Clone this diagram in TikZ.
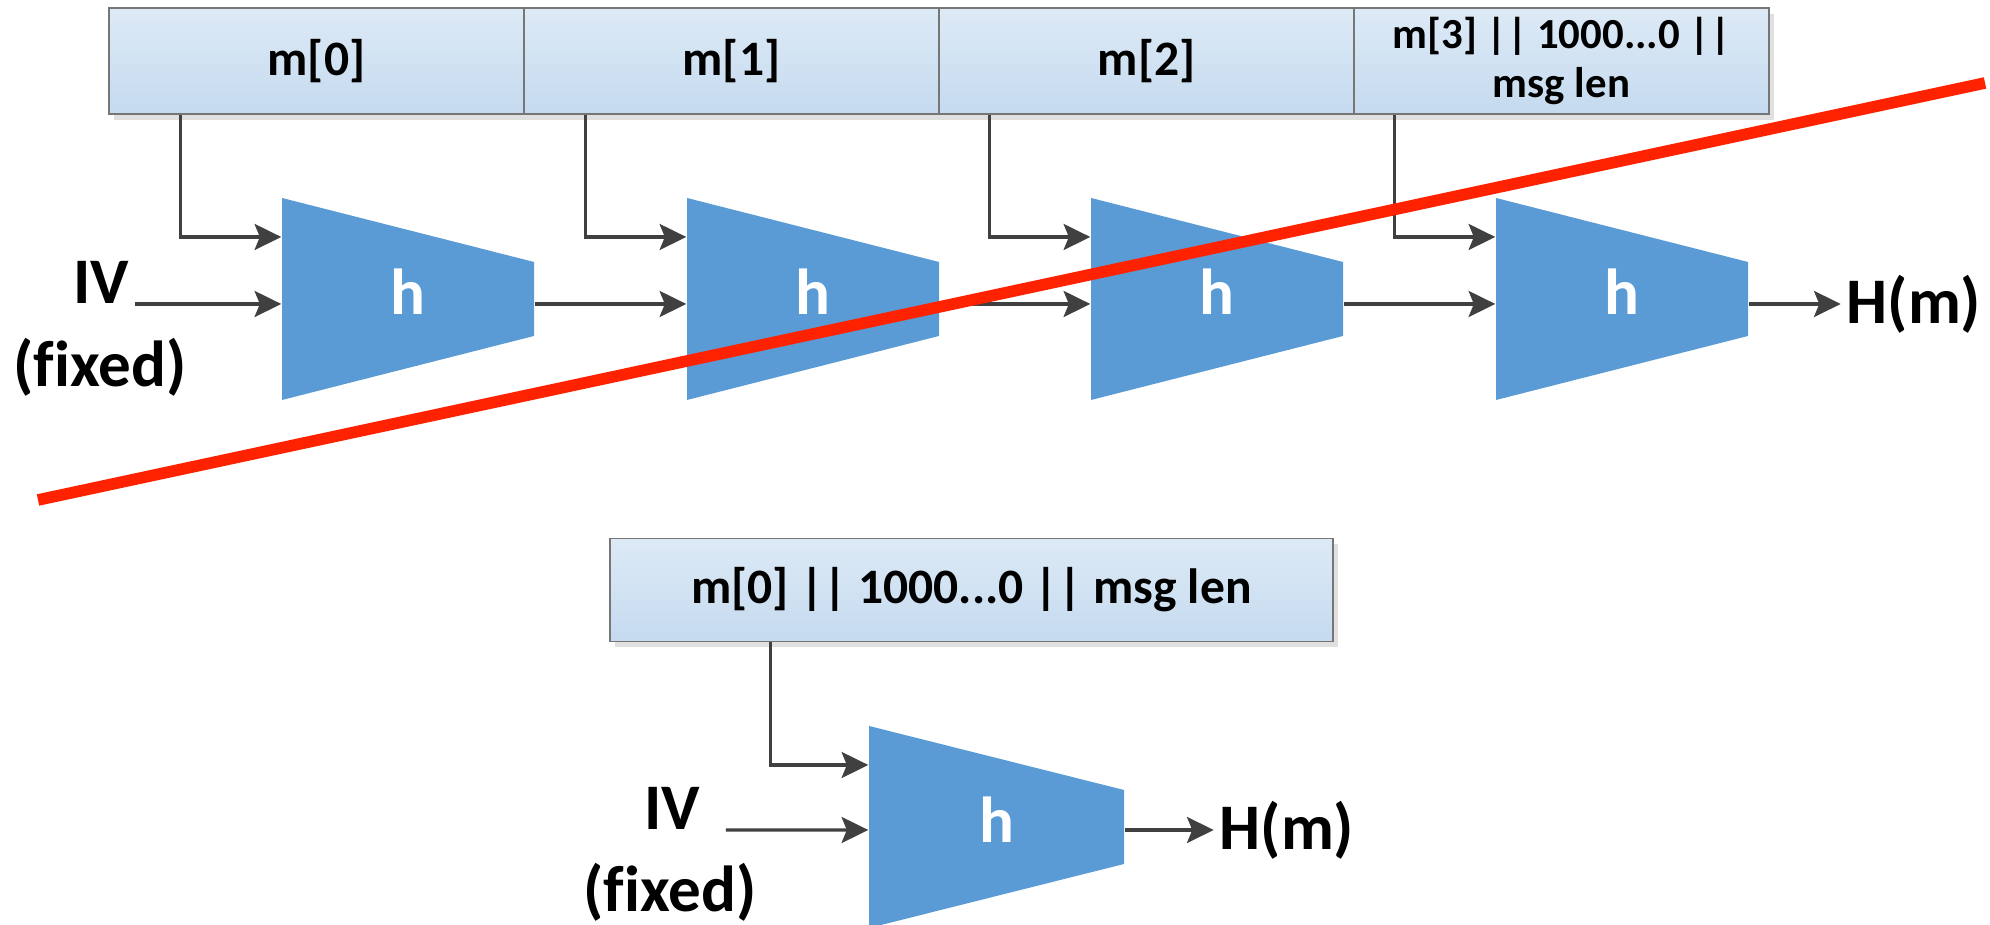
\documentclass[tikz,border=0pt]{standalone}
\usepackage{fontspec}
\setmainfont{Carlito}[Ligatures=NoCommon]
\usetikzlibrary{arrows.meta, positioning, calc, shadows}
\definecolor{hblue}{HTML}{5B9BD5}
\definecolor{boxtop}{HTML}{DDEAF6}
\definecolor{boxbot}{HTML}{C5DAEF}
\definecolor{boxline}{HTML}{767676}
\definecolor{arrgray}{HTML}{404040}
\definecolor{cutred}{HTML}{FF2200}

\begin{document}
\begin{tikzpicture}[
  >={Stealth[length=7.6pt, width=7.4pt, inset=1.5pt]},
  blk/.style={draw=boxline, line width=0.5pt, top color=boxtop, bottom color=boxbot,
    minimum height=1.06cm, inner sep=0pt, align=center,
    font=\fontsize{14.1}{16}\selectfont\bfseries,
    drop shadow={shadow xshift=0.05cm, shadow yshift=-0.06cm, fill=black!12, opacity=1}},
  hblock/.style={minimum width=2.52cm, minimum height=2.02cm, inner sep=0pt, fill=white,
    text=white, text depth=0.14cm, font=\fontsize{18.5}{22}\selectfont\bfseries,
    path picture={\fill[hblue] (path picture bounding box.north west)
      -- ($(path picture bounding box.east)+(0,0.37)$)
      -- ($(path picture bounding box.east)+(0,-0.37)$)
      -- (path picture bounding box.south west) -- cycle;}},
  lbl/.style={font=\fontsize{18.5}{22}\selectfont\bfseries, inner sep=1.5pt},
  flow/.style={arrgray, line width=0.9pt, ->},
]

\useasboundingbox (0,0) rectangle (19.90,9.25);

% Message blocks
\node[blk, minimum width=4.15cm] (m0) at (3.165,8.64) {m[0]};
\node[blk, minimum width=4.15cm] (m1) at (7.315,8.64) {m[1]};
\node[blk, minimum width=4.15cm] (m2) at (11.465,8.64) {m[2]};
\node[blk, minimum width=4.15cm, font=\fontsize{12.2}{13.7}\selectfont\bfseries]
  (m3) at (15.615,8.64) {m[3] || 1000...0 ||\\msg len};

% Compression stages
\node[hblock] (h1) at (4.08,6.26) {h};
\node[hblock] (h2) at (8.13,6.26) {h};
\node[hblock] (h3) at (12.17,6.26) {h};
\node[hblock] (h4) at (16.22,6.26) {h};

% Initial value
\node[lbl, anchor=base] (iv) at (1.01,6.21) {IV};
\node[lbl, anchor=base] (fx) at (1.00,5.38) {(fixed)};
\draw[flow] (iv.base east) -- (iv.base east -| h1.west);

% Chaining value
\draw[flow] ([yshift=-0.5mm]h1.east) -- ([yshift=-0.5mm]h2.west);
\draw[flow] ([yshift=-0.5mm]h2.east) -- ([yshift=-0.5mm]h3.west);
\draw[flow] ([yshift=-0.5mm]h3.east) -- ([yshift=-0.5mm]h4.west);

% Block inputs
\coordinate (k1) at ([shift={(-1.01,0.62)}]h1.west);
\coordinate (k2) at ([shift={(-1.01,0.62)}]h2.west);
\coordinate (k3) at ([shift={(-1.01,0.62)}]h3.west);
\coordinate (k4) at ([shift={(-1.01,0.62)}]h4.west);
\draw[flow] (m0.south -| k1) |- (h1.west |- k1);
\draw[flow] (m1.south -| k2) |- (h2.west |- k2);
\draw[flow] (m2.south -| k3) |- (h3.west |- k3);
\draw[flow] (m3.south -| k4) |- (h4.west |- k4);

% Digest
\node[lbl, right=0.92cm of h4.east, yshift=-0.5mm] (out) {H(m)};
\draw[flow] ([yshift=-0.5mm]h4.east) -- (out.west);

% Short message: one block only
\node[blk, minimum width=7.23cm, minimum height=1.03cm] (mb) at (9.715,3.35) {m[0] || 1000...0 || msg len};
\node[hblock, minimum width=2.55cm] (h5) at (9.965,0.98) {h};

\node[lbl, anchor=base] (ivb) at (6.72,0.95) {IV};
\node[lbl, anchor=base] (fxb) at (6.70,0.13) {(fixed)};
\draw[flow] ([xshift=2mm]ivb.base east) -- ([yshift=-0.3mm]h5.west);

\coordinate (k5) at ([shift={(-0.98,0.62)}]h5.west);
\draw[flow] (mb.south -| k5) |- (h5.west |- k5);

\node[lbl, right=0.89cm of h5.east, yshift=-0.3mm] (outb) {H(m)};
\draw[flow] ([yshift=-0.3mm]h5.east) -- (outb.west);

% Cross-out
\draw[cutred, line width=3.3pt] (0.38,4.25) -- (19.85,8.42);

\end{tikzpicture}
\end{document}
